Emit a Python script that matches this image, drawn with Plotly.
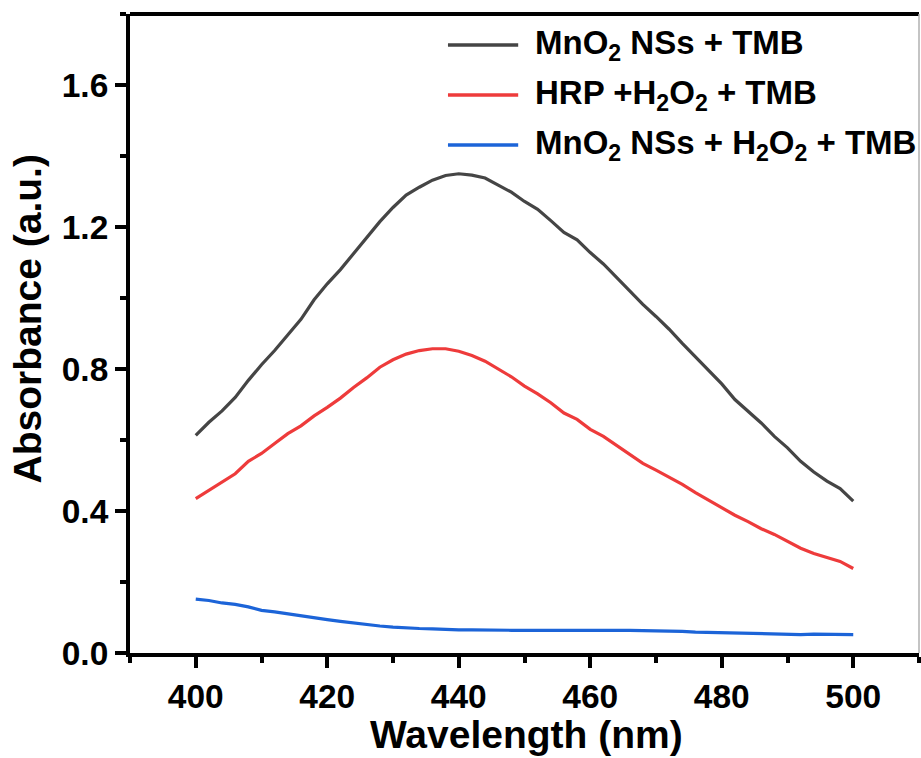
import plotly.graph_objects as go

# Wavelength grid (nm)
wavelength = list(range(400, 501, 2))

# Absorbance spectra (a.u.)
mno2_tmb = [
    0.613, 0.650, 0.682, 0.720, 0.768, 0.812, 0.852, 0.897, 0.940, 0.995,
    1.040, 1.080, 1.125, 1.172, 1.215, 1.255, 1.290, 1.312, 1.332, 1.345,
    1.350, 1.346, 1.338, 1.318, 1.298, 1.272, 1.250, 1.218, 1.185, 1.164,
    1.128, 1.096, 1.058, 1.020, 0.982, 0.948, 0.912, 0.872, 0.835, 0.795,
    0.758, 0.714, 0.680, 0.648, 0.610, 0.578, 0.540, 0.510, 0.484, 0.463,
    0.428,
]
hrp_h2o2_tmb = [
    0.435, 0.458, 0.480, 0.505, 0.540, 0.562, 0.590, 0.618, 0.640, 0.668,
    0.692, 0.718, 0.748, 0.775, 0.805, 0.826, 0.842, 0.852, 0.857, 0.857,
    0.850, 0.838, 0.822, 0.800, 0.778, 0.752, 0.730, 0.705, 0.676, 0.658,
    0.630, 0.610, 0.585, 0.558, 0.534, 0.515, 0.495, 0.475, 0.452, 0.430,
    0.410, 0.388, 0.370, 0.350, 0.334, 0.315, 0.295, 0.280, 0.268, 0.258,
    0.238,
]
mno2_h2o2_tmb = [
    0.152, 0.148, 0.141, 0.137, 0.130, 0.120, 0.116, 0.110, 0.104, 0.099,
    0.094, 0.089, 0.084, 0.079, 0.076, 0.073, 0.070, 0.069, 0.068, 0.066,
    0.065, 0.065, 0.064, 0.064, 0.064, 0.064, 0.064, 0.064, 0.064, 0.065,
    0.066, 0.065, 0.064, 0.064, 0.063, 0.063, 0.062, 0.061, 0.059, 0.058,
    0.056, 0.055, 0.054, 0.054, 0.053, 0.053, 0.052, 0.053, 0.052, 0.052,
    0.052,
]

series_names = [
    "MnO<sub>2</sub> NSs + TMB",
    "HRP +H<sub>2</sub>O<sub>2</sub> + TMB",
    "MnO<sub>2</sub> NSs + H<sub>2</sub>O<sub>2</sub> + TMB",
]
series_values = [mno2_tmb, hrp_h2o2_tmb, mno2_h2o2_tmb]
colors = ["#454545", "#ee3b3b", "#1c64d8"]

x_ticks = [400, 420, 440, 460, 480, 500]
y_ticks = [0.0, 0.4, 0.8, 1.2, 1.6]
y_tick_labels = ["0.0", "0.4", "0.8", "1.2", "1.6"]

FONT = "Liberation Sans, Arial, sans-serif"

fig = go.Figure()
for name, vals, col in zip(series_names, series_values, colors):
    fig.add_trace(go.Scatter(
        x=wavelength, y=vals, mode="lines", name=name,
        line=dict(color=col, width=3.2), showlegend=False,
    ))

axis_common = dict(
    showgrid=False, zeroline=False, showline=True,
    linecolor="black", linewidth=4,
    ticks="outside", ticklen=11, tickwidth=3.5, tickcolor="black",
    tickfont=dict(family=FONT, size=33.5, color="black", weight="bold"),
)

fig.update_xaxes(
    range=[390, 510], tickvals=x_ticks,
    minor=dict(ticks="outside", ticklen=6, tickwidth=3.5, tickcolor="black", dtick=10, tick0=400),
    **axis_common,
)
fig.update_yaxes(
    range=[0, 1.8], tickvals=y_ticks, ticktext=y_tick_labels,
    minor=dict(ticks="outside", ticklen=6, tickwidth=3.5, tickcolor="black", dtick=0.2, tick0=0),
    **axis_common,
)

# Frame: heavy top border, light right border
fig.add_shape(type="line", xref="paper", yref="paper", x0=0, x1=1, y0=1, y1=1,
              line=dict(color="black", width=4))
fig.add_shape(type="line", xref="paper", yref="paper", x0=1, x1=1, y0=0, y1=1,
              line=dict(color="#b0b0b0", width=1.5))

# Legend drawn as sample lines with labels
legend_y = [0.9515, 0.8732, 0.795]
for name, col, ly in zip(series_names, colors, legend_y):
    fig.add_shape(type="line", xref="paper", yref="paper",
                  x0=0.403, x1=0.492, y0=ly, y1=ly,
                  line=dict(color=col, width=3.5))
    fig.add_annotation(xref="paper", yref="paper", x=0.511, y=ly,
                       xanchor="left", yanchor="middle", showarrow=False,
                       text=name,
                       font=dict(family=FONT, size=33, color="black", weight="bold"))

# Axis titles
fig.add_annotation(xref="paper", yref="paper", x=0.5025, y=-0.128,
                   xanchor="center", yanchor="middle", showarrow=False,
                   text="Wavelength (nm)",
                   font=dict(family=FONT, size=39, color="black", weight="bold"))
fig.add_annotation(xref="paper", yref="paper", x=-0.1293, y=0.5235,
                   xanchor="center", yanchor="middle", showarrow=False,
                   text="Absorbance (a.u.)", textangle=-90,
                   font=dict(family=FONT, size=39, color="black", weight="bold"))

fig.update_layout(
    width=921, height=758,
    margin=dict(l=130, r=2, t=14, b=105),
    plot_bgcolor="white", paper_bgcolor="white",
)

fig.write_html("out.html")
